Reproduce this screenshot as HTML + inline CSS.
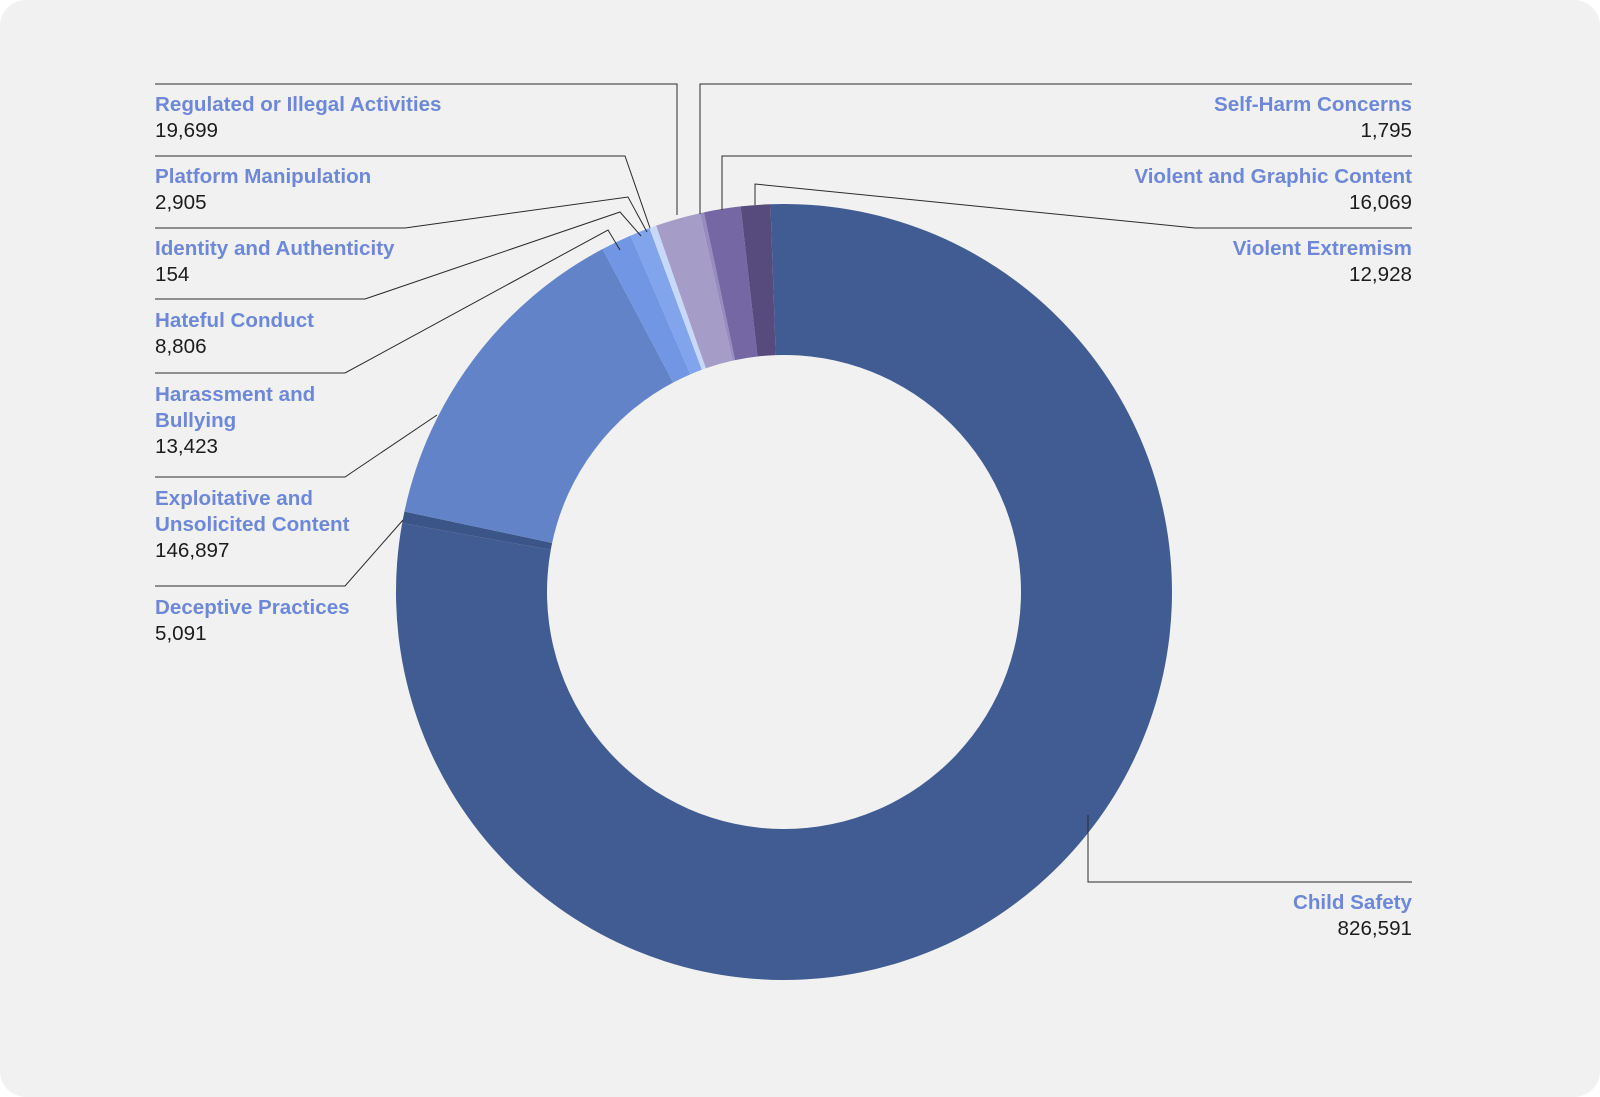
<!DOCTYPE html>
<html><head><meta charset="utf-8"><style>
html,body{margin:0;padding:0;background:#fff}
#card{position:absolute;left:0;top:0;width:1600px;height:1097px;background:#f1f1f1;border-radius:26px;overflow:hidden}
svg{position:absolute;left:0;top:0}
.t{font-family:"Liberation Sans",sans-serif;font-weight:bold;font-size:20.6px;fill:#6e88d9}
.v{font-family:"Liberation Sans",sans-serif;font-size:20.6px;fill:#1c1c1c}
</style></head><body>
<div id="card">
<svg id="chart" width="1600" height="1097"></svg>
</div>
<script>
const categories=["Child Safety","Deceptive Practices","Exploitative and Unsolicited Content","Harassment and Bullying","Hateful Conduct","Identity and Authenticity","Platform Manipulation","Regulated or Illegal Activities","Self-Harm Concerns","Violent and Graphic Content","Violent Extremism"];
const values=[826591,5091,146897,13423,8806,154,2905,19699,1795,16069,12928];
const valueLabels=["826,591","5,091","146,897","13,423","8,806","154","2,905","19,699","1,795","16,069","12,928"];
const colors=["#415c92","#3c5588","#6383c9","#7096e4","#82a4ec","#c8d8f8","#c8d8f8","#a59cc8","#968cbf","#7467a3","#574b7e"];
const svg=document.getElementById('chart');
const NS="http://www.w3.org/2000/svg";
const cx=784,cy=592,R=388,r=237,start=-2;
const total=values.reduce((a,b)=>a+b,0);
function pt(deg,rad){const a=(deg-90)*Math.PI/180;return [cx+rad*Math.cos(a),cy+rad*Math.sin(a)];}
let acc=start;
values.forEach((v,i)=>{
  const a0=acc,a1=acc+v/total*360;acc=a1;
  const large=(a1-a0)>180?1:0;
  const p0=pt(a0,R),p1=pt(a1,R),q1=pt(a1,r),q0=pt(a0,r);
  const p=document.createElementNS(NS,'path');
  p.setAttribute('d',`M${p0[0]},${p0[1]}A${R},${R} 0 ${large} 1 ${p1[0]},${p1[1]}L${q1[0]},${q1[1]}A${r},${r} 0 ${large} 0 ${q0[0]},${q0[1]}Z`);
  p.setAttribute('fill',colors[i]);
  
  
  svg.appendChild(p);
});
const lines=[
 "155,84 677,84 677,215","155,156 625,156 650,228","155,228 405,228 628,197 647,232",
 "155,299 365,299 620,212 641,236","155,373 345,373 608,230 620,250","155,477 345,477 437,415",
 "155,586 345,586 403,520","1412,84 700,84 700,214","1412,156 722,156 722,210",
 "1412,228 1195,228 755,184 755,205","1412,882 1088,882 1088,815"];
lines.forEach((s,i)=>{
  const l=document.createElementNS(NS,'polyline');
  l.setAttribute('points',s);l.setAttribute('fill','none');l.setAttribute('stroke','#2a2a2a');l.setAttribute('stroke-width','1');
  
  
  svg.appendChild(l);
});
const labels=[[7,155,["Regulated or Illegal Activities"],111,'start'],[6,155,["Platform Manipulation"],183,'start'],
 [5,155,["Identity and Authenticity"],255,'start'],[4,155,["Hateful Conduct"],327,'start'],
 [3,155,["Harassment and","Bullying"],401,'start'],[2,155,["Exploitative and","Unsolicited Content"],505,'start'],
 [1,155,["Deceptive Practices"],614,'start'],[8,1412,["Self-Harm Concerns"],111,'end'],
 [9,1412,["Violent and Graphic Content"],183,'end'],[10,1412,["Violent Extremism"],255,'end'],[0,1412,["Child Safety"],909,'end']];
labels.forEach(([ci,x,tl,y,anc])=>{
  tl.forEach((s,k)=>{
    const t=document.createElementNS(NS,'text');
    t.setAttribute('x',x);t.setAttribute('y',y+k*26);t.setAttribute('class','t');t.setAttribute('text-anchor',anc);
    t.textContent=s;
    
    
    svg.appendChild(t);
  });
  const t=document.createElementNS(NS,'text');
  t.setAttribute('x',x);t.setAttribute('y',y+tl.length*26);t.setAttribute('class','v');t.setAttribute('text-anchor',anc);
  t.textContent=valueLabels[ci];
  
  
  svg.appendChild(t);
});
</script>
</body></html>
